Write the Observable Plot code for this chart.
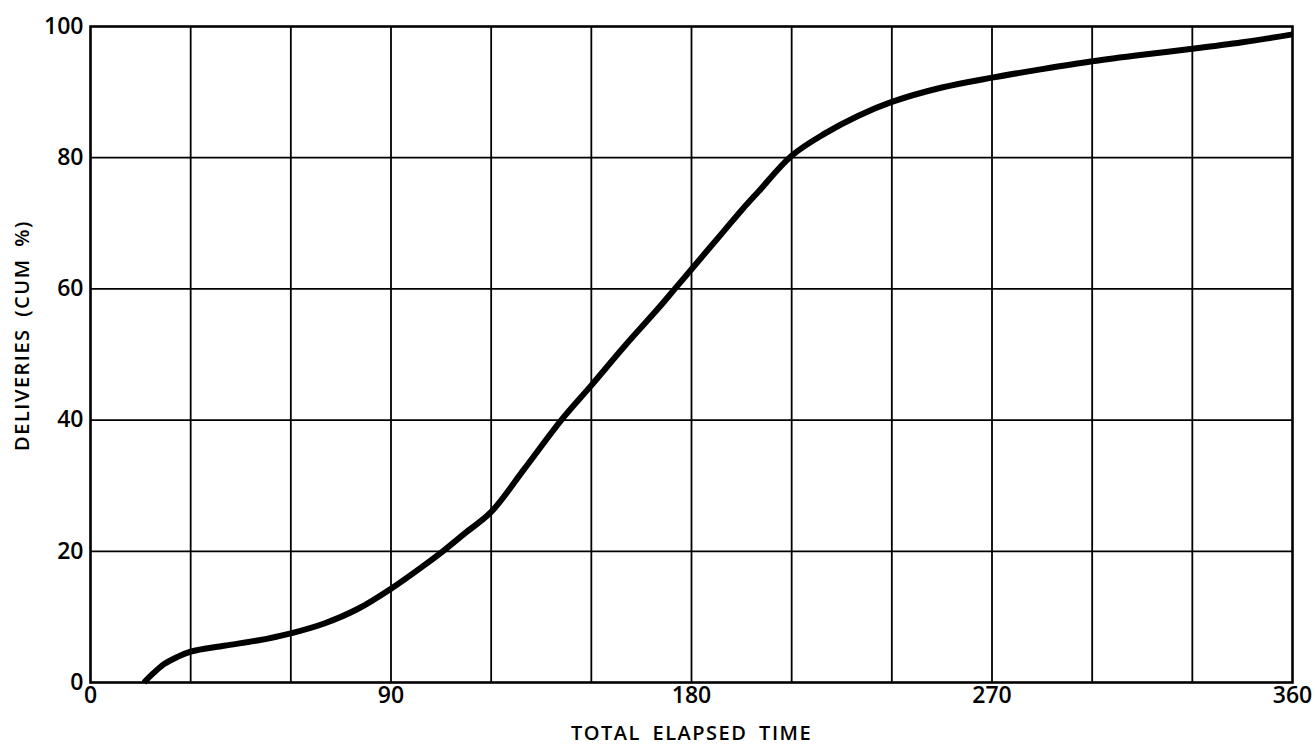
<!DOCTYPE html>
<html>
<head>
<meta charset="utf-8">
<script src="https://cdn.jsdelivr.net/npm/d3@7"></script>
<script src="https://cdn.jsdelivr.net/npm/@observablehq/plot@0.6"></script>
<style>
  html, body { margin: 0; padding: 0; background: #fff; }
  #chart svg { display: block; }
</style>
</head>
<body>
<div id="chart"></div>
<script>
// Cumulative deliveries (%) vs total elapsed time
const elapsedTime = [16, 19, 22, 26, 30, 40, 50, 60, 70, 80, 90, 100, 105.5, 112, 120, 130, 141, 150, 160, 170, 175, 180, 190, 195, 200, 210, 220, 230, 240, 255, 270, 285, 300, 315, 330, 345, 360];
const cumDeliveries = [0, 1.5, 2.8, 3.9, 4.7, 5.6, 6.4, 7.5, 9.0, 11.2, 14.3, 17.9, 20, 22.7, 26, 32.6, 40, 45.3, 51.3, 57.0, 60, 63.0, 69.0, 72, 74.8, 80.3, 83.7, 86.4, 88.5, 90.7, 92.2, 93.5, 94.7, 95.7, 96.6, 97.6, 98.8];

const xTickLabels = [0, 90, 180, 270, 360];
const yTickLabels = [0, 20, 40, 60, 80, 100];
const xGridLines = [30, 60, 90, 120, 150, 180, 210, 240, 270, 300, 330];
const yGridLines = [20, 40, 60, 80];
const xTitle = "TOTAL ELAPSED TIME";
const yTitle = "DELIVERIES (CUM %)";

const data = elapsedTime.map((t, i) => ({t, p: cumDeliveries[i]}));

const font = "'Open Sans', 'DejaVu Sans', sans-serif";

const chart = Plot.plot({
  width: 1315,
  height: 750,
  marginLeft: 90,
  marginRight: 23,
  marginTop: 26,
  marginBottom: 68,
  style: {fontFamily: font, color: "#000", background: "#fff"},
  x: {domain: [0, 360]},
  y: {domain: [0, 100]},
  marks: [
    Plot.ruleX(xGridLines, {stroke: "#000", strokeWidth: 1.8}),
    Plot.ruleY(yGridLines, {stroke: "#000", strokeWidth: 1.8}),
    Plot.frame({stroke: "#000", strokeWidth: 2.6}),
    Plot.line(data, {x: "t", y: "p", stroke: "#000", strokeWidth: 6, curve: "catmull-rom", strokeLinecap: "butt"}),
    Plot.axisX(xTickLabels, {tickSize: 0, tickPadding: 4, fontSize: 23, fontWeight: 600, label: null}),
    Plot.axisY(yTickLabels, {tickSize: 0, tickPadding: 7, fontSize: 23, fontWeight: 600, label: null}),
    Plot.text([xTitle], {frameAnchor: "bottom", textAnchor: "middle", dy: 57, fontSize: 20, fontWeight: 600, text: d => d}),
    Plot.text([yTitle], {frameAnchor: "left", textAnchor: "middle", dx: -68, dy: -19, rotate: -90, fontSize: 20, fontWeight: 600, text: d => d})
  ]
});

d3.select(chart).selectAll("g[aria-label='text'] text")
  .attr("letter-spacing", "1.5px")
  .attr("word-spacing", "5px");
document.getElementById("chart").appendChild(chart);
</script>
</body>
</html>
